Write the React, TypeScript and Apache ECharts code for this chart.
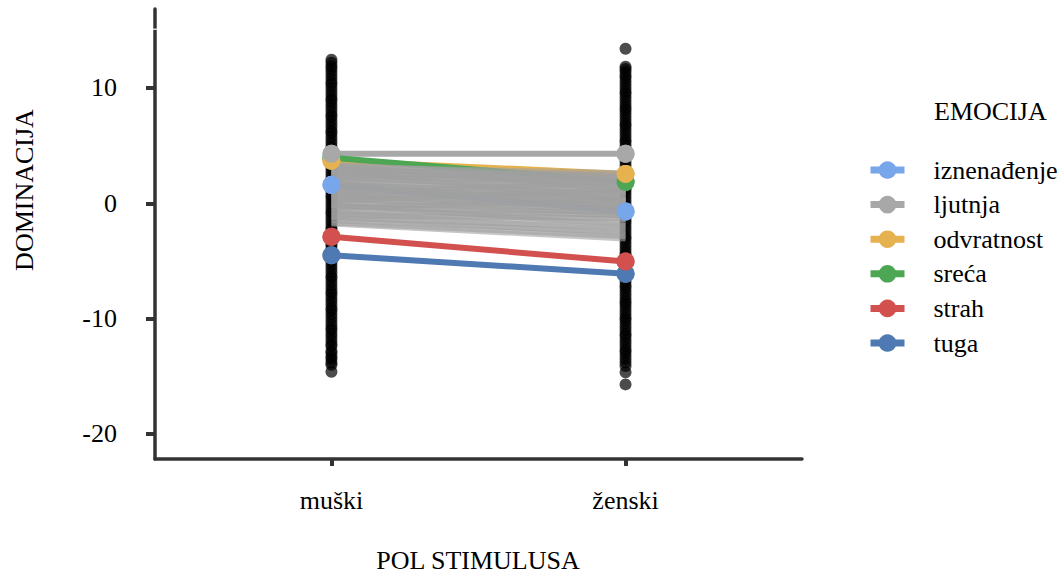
import React, { useEffect, useRef } from "react";
import * as echarts from "echarts";

const CATEGORIES = ["muški", "ženski"];
const Y_TICKS = [-20, -10, 0, 10];
const EMOTIONS = ["iznenađenje", "ljutnja", "odvratnost", "sreća", "strah", "tuga"];
const EMOTION_COLORS = ["#78A6EA", "#A8A8A8", "#E6B24F", "#4DA653", "#D2504E", "#4F79B2"];

// mean DOMINACIJA per emotion: [muški, ženski]
const MEAN_IZNENADJENJE = [1.6, -0.7];
const MEAN_LJUTNJA = [4.3, 4.3];
const MEAN_ODVRATNOST = [3.7, 2.55];
const MEAN_SRECA = [3.95, 1.85];
const MEAN_STRAH = [-2.9, -5.05];
const MEAN_TUGA = [-4.5, -6.1];
const MEANS = [MEAN_IZNENADJENJE, MEAN_LJUTNJA, MEAN_ODVRATNOST, MEAN_SRECA, MEAN_STRAH, MEAN_TUGA];

// individual observations (black columns)
const POINTS_MUSKI = [
  -14.6, -14.0, -13.8, -13.5, -13.3, -13.0, -12.8, -12.4, -12.2, -11.9, -11.6, -11.3, -11.0,
  -10.8, -10.5, -10.2, -9.9, -9.6, -9.3, -9.1, -8.8, -8.5, -8.2, -7.9, -7.7, -7.4, -7.1, -6.8,
  -6.5, -6.3, -6.0, -5.7, -5.4, -5.1, -4.9, -4.6, -4.3, -4.0, -3.7, -3.5, -3.2, -2.9, -2.6,
  -2.3, -2.1, -1.8, -1.5, -1.2, -0.9, -0.7, -0.4, -0.1, 0.2, 0.5, 0.7, 1.0, 1.3, 1.6, 1.9,
  2.1, 2.4, 2.7, 3.0, 3.3, 3.5, 3.8, 4.1, 4.4, 4.7, 4.9, 5.2, 5.5, 5.8, 6.1, 6.3, 6.6, 6.9,
  7.2, 7.5, 7.7, 8.0, 8.3, 8.6, 8.9, 9.1, 9.4, 9.7, 10.0, 10.3, 10.5, 10.8, 11.1, 11.4, 11.7,
  11.9, 12.2, 12.45,
];
const POINTS_ZENSKI = [
  -15.7, -14.65, -14.1, -13.8, -13.5, -13.2, -12.9, -12.7, -12.4, -12.1, -11.8, -11.5, -11.3,
  -11.0, -10.7, -10.4, -10.1, -9.9, -9.6, -9.3, -9.0, -8.7, -8.5, -8.2, -7.9, -7.6, -7.3, -7.1,
  -6.8, -6.5, -6.2, -5.9, -5.7, -5.4, -5.1, -4.8, -4.5, -4.3, -4.0, -3.7, -3.4, -3.1, -2.9,
  -2.6, -2.3, -2.0, -1.7, -1.5, -1.2, -0.9, -0.6, -0.3, -0.1, 0.2, 0.5, 0.8, 1.1, 1.3, 1.6,
  1.9, 2.2, 2.5, 2.7, 3.0, 3.3, 3.6, 3.9, 4.1, 4.4, 4.7, 5.0, 5.3, 5.5, 5.8, 6.1, 6.4, 6.7,
  6.9, 7.2, 7.5, 7.8, 8.1, 8.3, 8.6, 8.9, 9.2, 9.5, 9.7, 10.0, 10.3, 10.6, 10.9, 11.1, 11.4,
  11.65, 11.85, 13.4,
];

// per-participant values: [muški, ženski]
const PARTICIPANTS = [
  [3.4, 2.0], [3.3, 2.3], [3.2, 2.65], [3.1, 1.7], [3.0, 2.2], [2.9, 1.5], [2.8, 2.5], [2.7, 1.9],
  [2.6, 1.3], [2.4, 1.7], [2.3, 1.0], [2.1, 1.4], [2.0, 0.8], [1.9, 1.1], [1.7, 0.5], [1.6, 0.9],
  [1.5, 0.3], [1.3, 0.6], [1.2, 0.0], [1.1, 0.4], [0.9, -0.2], [0.8, 0.2], [0.7, -0.5], [0.5, -0.1],
  [0.4, -0.7], [0.3, -0.3], [0.1, -0.9], [0.0, -0.5], [-0.2, -1.1], [-0.3, -0.8], [-0.5, -1.4],
  [-0.7, -1.0], [-0.9, -1.7], [-1.1, -1.3], [-1.3, -2.1], [-1.5, -2.5], [-1.7, -2.9], [-1.2, -2.7],
  [-0.8, -2.3], [2.5, 2.2], [1.0, 1.8], [0.2, 1.2], [3.3, 1.2], [-0.4, 0.3], [2.8, 0.2],
  [1.8, -0.3], [0.6, 0.9], [-0.1, -1.9], [2.2, 2.0], [-1.8, -3.1],
];

// drawing order of the mean markers (later = on top)
const MARKER_ORDER = [5, 4, 3, 2, 1, 0];

const FONT = "Liberation Serif";

export default function App() {
  const ref = useRef<HTMLDivElement>(null);

  useEffect(() => {
    document.body.style.margin = "0";
    const chart = echarts.init(ref.current!, null, { renderer: "svg" });

    const pointData = [
      ...POINTS_MUSKI.map((v) => [1, v]),
      ...POINTS_ZENSKI.map((v) => [2, v]),
    ];

    const meanSeries = EMOTIONS.map((name, i) => ({
      name,
      type: "line",
      data: MEANS[i].map((v, j) => [j + 1, v]),
      symbol: "circle",
      symbolSize: 18,
      showSymbol: true,
      color: EMOTION_COLORS[i],
      lineStyle: { width: 6, color: EMOTION_COLORS[i] },
      itemStyle: { color: EMOTION_COLORS[i] },
      silent: true,
      z: 3,
    }));

    const markerSeries = MARKER_ORDER.map((i) => ({
      name: "marker-" + i,
      type: "scatter",
      data: MEANS[i].map((v, j) => [j + 1, v]),
      symbol: "circle",
      symbolSize: 18,
      itemStyle: { color: EMOTION_COLORS[i], opacity: 1 },
      silent: true,
      z: 5,
    }));

    const labelStyle = { fontSize: 26, fontFamily: FONT, color: "#000" };

    chart.setOption({
      animation: false,
      textStyle: { fontFamily: FONT },
      grid: { left: 155, right: 262, top: 9, bottom: 117 },
      xAxis: {
        type: "value",
        min: 0.4,
        max: 2.6,
        splitLine: { show: false },
        axisLine: { show: true, onZero: false, lineStyle: { color: "#333", width: 3.5 } },
        axisTick: { show: true, length: 7, lineStyle: { color: "#333", width: 4 }, customValues: [1, 2] },
        axisLabel: {
          customValues: [1, 2],
          formatter: (v: number) => CATEGORIES[Math.round(v) - 1] ?? "",
          margin: 28,
          ...labelStyle,
        },
      },
      yAxis: {
        type: "value",
        min: -22.17,
        max: 16.85,
        splitLine: { show: false },
        axisLine: { show: true, onZero: false, lineStyle: { color: "#333", width: 3.5 } },
        axisTick: { show: true, length: 9, lineStyle: { color: "#333", width: 4 }, customValues: Y_TICKS },
        axisLabel: {
          customValues: Y_TICKS,
          margin: 38,
          ...labelStyle,
        },
      },
      legend: {
        data: EMOTIONS,
        orient: "vertical",
        left: 862,
        top: 152,
        itemWidth: 34,
        itemHeight: 22,
        itemGap: 8.6,
        lineStyle: { width: 7 },
        textStyle: {
          ...labelStyle,
          lineHeight: 26,
          padding: [0, 0, 0, 24],
        },
      },
      graphic: [
        {
          type: "rect",
          shape: { x: 150, y: 28.6, width: 12, height: 1.2 },
          style: { fill: "#fff" },
          z: 100,
        },
        {
          type: "text",
          x: 934,
          y: 111,
          style: {
            text: "EMOCIJA",
            fontSize: 26,
            fontFamily: FONT,
            fill: "#000",
            textAlign: "left",
            textVerticalAlign: "middle",
          },
        },
        {
          type: "text",
          x: 478,
          y: 560,
          style: {
            text: "POL STIMULUSA",
            fontSize: 26,
            fontFamily: FONT,
            fill: "#000",
            textAlign: "center",
            textVerticalAlign: "middle",
          },
        },
        {
          type: "text",
          x: 24,
          y: 190,
          rotation: Math.PI / 2,
          style: {
            text: "DOMINACIJA",
            fontSize: 26,
            fontFamily: FONT,
            fill: "#000",
            textAlign: "center",
            textVerticalAlign: "middle",
          },
        },
      ],
      series: [
        {
          name: "points",
          type: "scatter",
          data: pointData,
          symbolSize: 12,
          itemStyle: { color: "#000", opacity: 0.7 },
          silent: true,
          z: 2,
        },
        ...meanSeries,
        {
          name: "participants",
          type: "lines",
          coordinateSystem: "cartesian2d",
          polyline: false,
          data: PARTICIPANTS.map((p) => ({ coords: [[1, p[0]], [2, p[1]]] })),
          lineStyle: { color: "#a0a0a0", width: 5, opacity: 0.6, curveness: 0 },
          silent: true,
          z: 4,
        },
        ...markerSeries,
      ],
    });

    return () => chart.dispose();
  }, []);

  return <div ref={ref} style={{ width: 1064, height: 576 }} />;
}
